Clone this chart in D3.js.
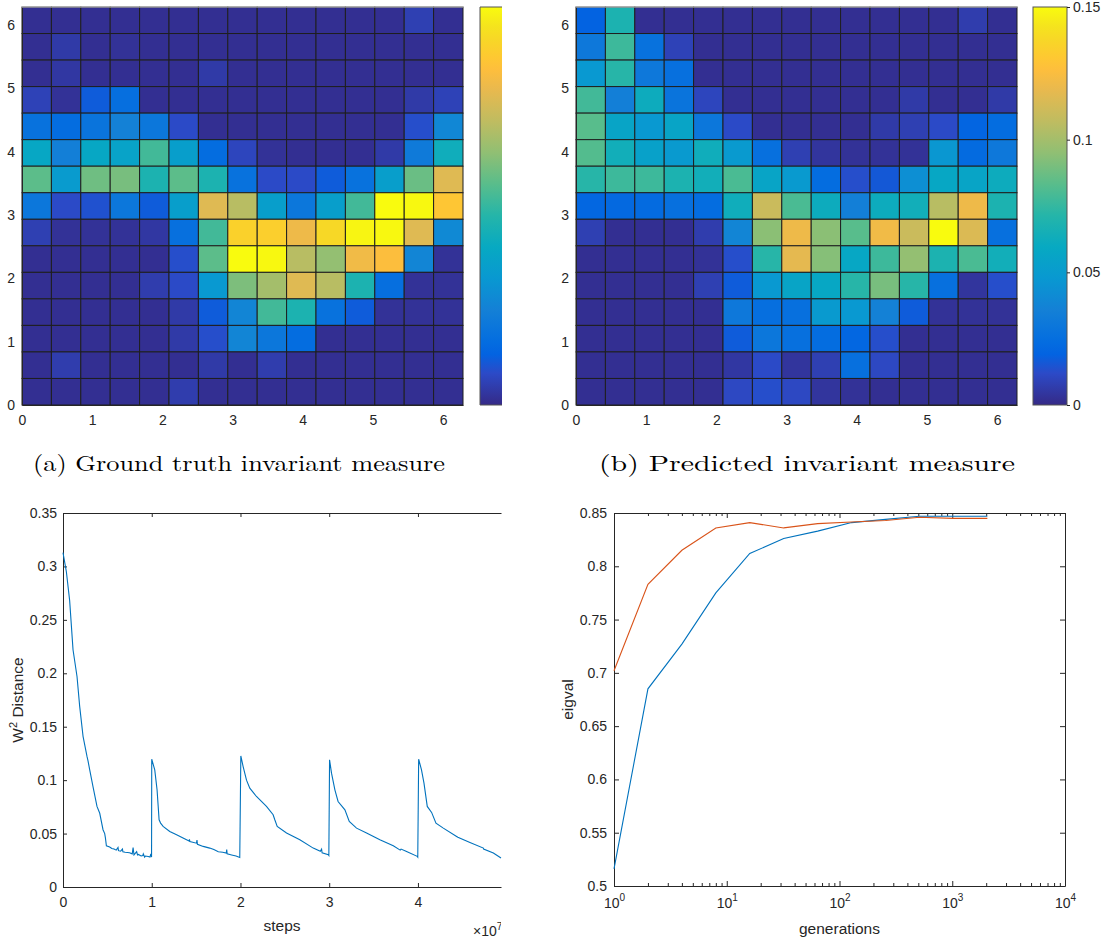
<!DOCTYPE html>
<html>
<head>
<meta charset="utf-8">
<script src="https://cdn.jsdelivr.net/npm/d3@7"></script>
<style>
  body { margin: 0; background: #fff; }
  svg text { font-family: "Liberation Sans", Arial, sans-serif; fill: #262626; }
  .axis path, .axis line { stroke: #262626; }
</style>
</head>
<body>
<script>
// ---- data ----
const gridTicks = [0, 1, 2, 3, 4, 5, 6];
const cbTicks = [0, 0.05, 0.1, 0.15];

// 15x15 invariant measures, top row first (y near 2*pi) -> bottom row (y near 0)
const truthMeasure = [
  [0.002,0.002,0.002,0.002,0.002,0.002,0.002,0.002,0.002,0.002,0.002,0.002,0.002,0.008,0.002],
  [0.002,0.006,0.002,0.003,0.002,0.002,0.002,0.002,0.002,0.002,0.002,0.002,0.002,0.002,0.002],
  [0.002,0.005,0.002,0.002,0.002,0.002,0.006,0.002,0.002,0.002,0.002,0.002,0.002,0.002,0.002],
  [0.009,0.003,0.017,0.025,0.002,0.002,0.002,0.002,0.002,0.002,0.002,0.002,0.002,0.006,0.009],
  [0.027,0.024,0.028,0.036,0.030,0.012,0.002,0.002,0.002,0.002,0.002,0.002,0.002,0.013,0.039],
  [0.058,0.035,0.058,0.055,0.078,0.052,0.024,0.010,0.003,0.002,0.002,0.002,0.006,0.032,0.063],
  [0.084,0.050,0.088,0.090,0.068,0.084,0.068,0.027,0.012,0.012,0.017,0.027,0.052,0.087,0.116],
  [0.030,0.012,0.014,0.030,0.017,0.052,0.116,0.105,0.052,0.030,0.052,0.078,0.150,0.149,0.130],
  [0.008,0.003,0.003,0.003,0.005,0.026,0.078,0.135,0.134,0.121,0.138,0.148,0.149,0.116,0.040],
  [0.002,0.002,0.002,0.002,0.002,0.013,0.084,0.150,0.149,0.105,0.096,0.122,0.126,0.038,0.003],
  [0.002,0.002,0.002,0.002,0.007,0.012,0.048,0.091,0.100,0.116,0.105,0.068,0.025,0.003,0.003],
  [0.002,0.002,0.002,0.002,0.002,0.006,0.017,0.038,0.078,0.068,0.027,0.017,0.003,0.003,0.003],
  [0.002,0.002,0.002,0.002,0.002,0.006,0.013,0.038,0.030,0.024,0.002,0.002,0.002,0.002,0.002],
  [0.002,0.007,0.002,0.002,0.002,0.002,0.006,0.002,0.007,0.002,0.002,0.002,0.002,0.002,0.002],
  [0.002,0.002,0.002,0.002,0.002,0.007,0.002,0.002,0.002,0.002,0.002,0.002,0.002,0.002,0.002]
];
const predictedMeasure = [
  [0.019,0.068,0.002,0.002,0.002,0.002,0.002,0.002,0.002,0.002,0.002,0.002,0.002,0.007,0.002],
  [0.031,0.077,0.027,0.009,0.002,0.002,0.002,0.002,0.002,0.002,0.002,0.002,0.002,0.002,0.002],
  [0.048,0.072,0.031,0.026,0.002,0.002,0.002,0.002,0.002,0.002,0.002,0.002,0.002,0.002,0.002],
  [0.078,0.035,0.062,0.028,0.010,0.002,0.002,0.002,0.002,0.002,0.002,0.006,0.002,0.002,0.006],
  [0.083,0.056,0.048,0.056,0.030,0.012,0.002,0.002,0.002,0.002,0.006,0.008,0.012,0.020,0.024],
  [0.082,0.064,0.054,0.049,0.063,0.049,0.026,0.008,0.004,0.003,0.003,0.003,0.047,0.023,0.031],
  [0.072,0.077,0.077,0.068,0.064,0.080,0.056,0.049,0.024,0.013,0.016,0.043,0.058,0.056,0.062],
  [0.021,0.022,0.023,0.026,0.024,0.063,0.110,0.080,0.062,0.035,0.062,0.064,0.105,0.121,0.068],
  [0.008,0.002,0.002,0.002,0.007,0.038,0.094,0.121,0.094,0.083,0.122,0.110,0.150,0.115,0.026],
  [0.002,0.002,0.002,0.002,0.003,0.013,0.072,0.118,0.093,0.058,0.077,0.096,0.068,0.080,0.064],
  [0.002,0.002,0.002,0.002,0.008,0.017,0.048,0.056,0.058,0.072,0.090,0.072,0.026,0.004,0.013],
  [0.002,0.002,0.002,0.002,0.002,0.031,0.025,0.026,0.049,0.048,0.036,0.017,0.003,0.003,0.003],
  [0.002,0.002,0.002,0.002,0.002,0.017,0.030,0.026,0.024,0.021,0.013,0.002,0.002,0.002,0.002],
  [0.002,0.002,0.002,0.002,0.002,0.005,0.012,0.004,0.008,0.026,0.011,0.002,0.002,0.002,0.002],
  [0.002,0.002,0.002,0.002,0.002,0.011,0.013,0.011,0.004,0.003,0.002,0.002,0.002,0.002,0.002]
];

// W^2 distance vs training steps (x in units of 1e7)
const stepsX = [
  0, 0.038, 0.075, 0.113, 0.158, 0.188, 0.226, 0.271, 0.282, 0.30, 0.338, 0.383, 0.414, 0.451, 0.470, 0.478, 0.489,
  0.526, 0.55, 0.575, 0.6, 0.62, 0.625, 0.65, 0.67, 0.675, 0.7, 0.75, 0.78, 0.79, 0.80, 0.83, 0.84, 0.85, 0.88,
  0.9, 0.905, 0.92, 0.93, 0.96, 0.98, 0.99, 0.995, 0.998,
  1.0, 1.034, 1.06, 1.083, 1.10, 1.128, 1.203, 1.28, 1.353, 1.42, 1.425, 1.43, 1.504, 1.51, 1.515, 1.58, 1.654,
  1.70, 1.75, 1.80, 1.84, 1.845, 1.85, 1.90, 1.95, 1.992,
  2.004, 2.03, 2.068, 2.105, 2.18, 2.293, 2.368, 2.387, 2.414, 2.519, 2.669, 2.82, 2.90, 2.914, 2.92, 2.99, 2.996,
  3.004, 3.026, 3.064, 3.10, 3.177, 3.226, 3.308, 3.421, 3.571, 3.722, 3.80, 3.81, 3.872, 3.992, 3.998,
  4.008, 4.04, 4.068, 4.105, 4.154, 4.203, 4.286, 4.436, 4.45, 4.586, 4.737, 4.74, 4.85, 4.936
];
const w2Dist = [
  0.313, 0.295, 0.268, 0.222, 0.197, 0.169, 0.141, 0.122, 0.118, 0.110, 0.094, 0.0754, 0.069, 0.0536, 0.050, 0.046, 0.0386,
  0.0374, 0.036, 0.0355, 0.0345, 0.037, 0.034, 0.0335, 0.0355, 0.033, 0.0325, 0.032, 0.031, 0.037, 0.030, 0.033, 0.030, 0.0305, 0.029,
  0.0295, 0.031, 0.028, 0.029, 0.0285, 0.028, 0.031, 0.029, 0.028,
  0.1196, 0.1096, 0.091, 0.0629, 0.0598, 0.0567, 0.052, 0.049, 0.0458, 0.043, 0.0445, 0.0425, 0.041, 0.044, 0.040, 0.038, 0.0364,
  0.035, 0.033, 0.0325, 0.0318, 0.035, 0.031, 0.030, 0.029, 0.0277,
  0.1227, 0.1127, 0.100, 0.0925, 0.0847, 0.0754, 0.0676, 0.0629, 0.0567, 0.0505, 0.0442, 0.0364, 0.0335, 0.0355, 0.032, 0.0302, 0.0295,
  0.119, 0.1065, 0.0909, 0.080, 0.0722, 0.0613, 0.0551, 0.0505, 0.0442, 0.0386, 0.0345, 0.0355, 0.0333, 0.0287, 0.028,
  0.1196, 0.1096, 0.0972, 0.0754, 0.0698, 0.0598, 0.0551, 0.0473, 0.0465, 0.0417, 0.0364, 0.0355, 0.0318, 0.0271
];
const w2Ticks = [0, 0.05, 0.1, 0.15, 0.2, 0.25, 0.3, 0.35];
const stepTicks = [0, 1, 2, 3, 4];

// eigenvalue vs generations
const generations = [1, 2, 4, 8, 16, 32, 64, 128, 256, 512, 1024, 2048];
const eigBlue   = [0.516, 0.685, 0.727, 0.775, 0.812, 0.826, 0.833, 0.841, 0.844, 0.847, 0.847, 0.847];
const eigOrange = [0.702, 0.783, 0.815, 0.836, 0.841, 0.836, 0.840, 0.8415, 0.843, 0.846, 0.845, 0.845];
const eigTicks = [0.5, 0.55, 0.6, 0.65, 0.7, 0.75, 0.8, 0.85];
const genTicks = [1, 10, 100, 1000, 10000];

// parula colormap anchors
const parula = ["#352a87","#2c4ac7","#0363e1","#046de0","#1480d6","#0998d1","#07a9c2","#25b5a9",
                "#59bd8b","#91bf73","#c0bc60","#e9b94e","#fdbe3d","#fec832","#f7d826","#f5e41d","#f9fb0e"];
const parulaIdx = [0, 5, 8, 10, 15, 20, 25, 30, 35, 40, 45, 50, 53, 55, 58, 60, 63];

const fmt = d => d === 0 ? "0" : String(+d.toFixed(2));
const intFmt = d3.format("d");
const labelSize = 15.5;

const svg = d3.select("body").append("svg")
  .attr("width", 1109)
  .attr("height", 940);

const color = d3.scaleLinear()
  .domain(parulaIdx.map(i => i / 63 * 0.15))
  .range(parula)
  .clamp(true);

const grad = svg.append("defs").append("linearGradient")
  .attr("id", "parulaGrad")
  .attr("x1", 0).attr("y1", 1).attr("x2", 0).attr("y2", 0);
grad.selectAll("stop")
  .data(parulaIdx)
  .join("stop")
  .attr("offset", d => d / 63)
  .attr("stop-color", (d, i) => parula[i]);

function drawHeatmap(values, box, cb) {
  const g = svg.append("g");
  const x = d3.scaleLinear().domain([0, 2 * Math.PI]).range([box.x0, box.x1]);
  const y = d3.scaleLinear().domain([0, 2 * Math.PI]).range([box.y1, box.y0]);
  const n = values.length, step = 2 * Math.PI / n;
  const cells = values.flatMap((row, r) => row.map((v, c) => ({ r, c, v })));

  g.selectAll("rect.cell")
    .data(cells)
    .join("rect")
    .attr("class", "cell")
    .attr("x", d => x(d.c * step))
    .attr("width", d => x((d.c + 1) * step) - x(d.c * step))
    .attr("y", d => y((n - d.r) * step))
    .attr("height", d => y((n - d.r - 1) * step) - y((n - d.r) * step))
    .attr("fill", d => color(d.v))
    .attr("stroke", "#1e1e1e")
    .attr("stroke-width", 1);

  g.append("g").attr("class", "axis")
    .attr("transform", `translate(0,${box.y1})`)
    .call(d3.axisBottom(x).tickValues(gridTicks).tickFormat(intFmt).tickSizeInner(0).tickSizeOuter(0).tickPadding(10))
    .call(s => s.select(".domain").attr("stroke", "#7a7a7a"))
    .selectAll("text").attr("font-size", 14);
  g.append("g").attr("class", "axis")
    .attr("transform", `translate(${box.x0},0)`)
    .call(d3.axisLeft(y).tickValues(gridTicks).tickFormat(intFmt).tickSizeInner(0).tickSizeOuter(0).tickPadding(7))
    .call(s => s.select(".domain").attr("stroke", "#7a7a7a"))
    .selectAll("text").attr("font-size", 14);
  g.append("line")
    .attr("x1", box.x0).attr("x2", box.x1).attr("y1", box.y0).attr("y2", box.y0)
    .attr("stroke", "#cfcfcf");

  // colorbar
  g.append("rect")
    .attr("x", cb.x).attr("y", box.y0)
    .attr("width", cb.w).attr("height", box.y1 - box.y0)
    .attr("fill", "url(#parulaGrad)");
  if (cb.labels) {
    g.append("rect")
      .attr("x", cb.x).attr("y", box.y0)
      .attr("width", cb.w).attr("height", box.y1 - box.y0)
      .attr("fill", "none").attr("stroke", "#555");
    const cy = d3.scaleLinear().domain([0, 0.15]).range([box.y1, box.y0]);
    g.append("g").attr("class", "axis")
      .attr("transform", `translate(${cb.x + cb.w},0)`)
      .call(d3.axisRight(cy).tickValues(cbTicks).tickFormat(fmt).tickSizeInner(3).tickSizeOuter(0).tickPadding(3))
      .call(s => s.select(".domain").remove())
      .selectAll("text").attr("font-size", 14);
  } else {
    g.append("path")
      .attr("d", `M${cb.x + cb.w},${box.y0}H${cb.x}V${box.y1}H${cb.x + cb.w}`)
      .attr("fill", "none").attr("stroke", "#555");
  }
}

drawHeatmap(truthMeasure, { x0: 22, x1: 463, y0: 7, y1: 405 }, { x: 480, w: 22, labels: false });
drawHeatmap(predictedMeasure, { x0: 576, x1: 1017, y0: 7, y1: 405 }, { x: 1033, w: 34, labels: true });

// captions
const serif = '"Latin Modern Roman", "CMU Serif", "Liberation Serif", "DejaVu Serif", serif';
svg.append("text").attr("x", 239).attr("y", 471).attr("text-anchor", "middle")
  .style("font-family", serif).attr("font-size", 22).style("fill", "#000")
  .attr("textLength", 412).attr("lengthAdjust", "spacingAndGlyphs")
  .text("(a)  Ground truth invariant measure");
svg.append("text").attr("x", 807).attr("y", 471).attr("text-anchor", "middle")
  .style("font-family", serif).attr("font-size", 22).style("fill", "#000")
  .attr("textLength", 416).attr("lengthAdjust", "spacingAndGlyphs")
  .text("(b)  Predicted invariant measure");

// ---- W^2 distance plot ----
{
  const box = { x0: 63, x1: 501, y0: 513, y1: 887 };
  const x = d3.scaleLinear().domain([0, 4.936]).range([box.x0, box.x1]);
  const y = d3.scaleLinear().domain([0, 0.35]).range([box.y1, box.y0]);
  const g = svg.append("g");

  g.append("g").attr("class", "axis")
    .attr("transform", `translate(0,${box.y1})`)
    .call(d3.axisBottom(x).tickValues(stepTicks).tickFormat(intFmt).tickSizeInner(-4).tickSizeOuter(0).tickPadding(10))
    .selectAll("text").attr("font-size", 14);
  g.append("g").attr("class", "axis")
    .attr("transform", `translate(0,${box.y0})`)
    .call(d3.axisTop(x).tickValues(stepTicks).tickFormat("").tickSizeInner(-4).tickSizeOuter(0));
  g.append("g").attr("class", "axis")
    .attr("transform", `translate(${box.x0},0)`)
    .call(d3.axisLeft(y).tickValues(w2Ticks).tickFormat(fmt).tickSizeInner(-4).tickSizeOuter(0).tickPadding(6))
    .selectAll("text").attr("font-size", 14);

  const line = d3.line().x(d => x(d[0])).y(d => y(d[1]));
  g.append("path")
    .datum(stepsX.map((s, i) => [s, w2Dist[i]]))
    .attr("d", line)
    .attr("fill", "none")
    .attr("stroke", "#0072BD")
    .attr("stroke-width", 1.1);

  g.append("text").attr("x", (box.x0 + box.x1) / 2).attr("y", 931)
    .attr("text-anchor", "middle").attr("font-size", labelSize).text("steps");
  const yl = g.append("text")
    .attr("transform", `translate(23,${(box.y0 + box.y1) / 2}) rotate(-90)`)
    .attr("text-anchor", "middle").attr("font-size", labelSize);
  yl.append("tspan").text("W");
  yl.append("tspan").attr("dy", -6).attr("font-size", 11).text("2");
  yl.append("tspan").attr("dy", 6).text(" Distance");

  svg.append("clipPath").attr("id", "expClip")
    .append("rect").attr("x", 460).attr("y", 915).attr("width", 41).attr("height", 25);
  const ex = g.append("text").attr("x", 473).attr("y", 936)
    .attr("font-size", 14).attr("clip-path", "url(#expClip)");
  ex.append("tspan").text("\u00d710");
  ex.append("tspan").attr("dy", -6).attr("font-size", 10).text("7");
}

// ---- eigval plot ----
{
  const box = { x0: 614, x1: 1065, y0: 513, y1: 886 };
  const x = d3.scaleLog().domain([1, 10000]).range([box.x0, box.x1]);
  const y = d3.scaleLinear().domain([0.5, 0.85]).range([box.y1, box.y0]);
  const g = svg.append("g");
  const minor = [];
  for (let k = 0; k < 4; k++) for (let m = 2; m < 10; m++) minor.push(m * Math.pow(10, k));

  g.append("g").attr("class", "axis")
    .attr("transform", `translate(0,${box.y1})`)
    .call(d3.axisBottom(x).tickValues(genTicks).tickSizeInner(-5).tickSizeOuter(0).tickPadding(12)
      .tickFormat(""))
    .selectAll(".tick text")
    .attr("font-size", 14)
    .each(function (d) {
      const t = d3.select(this);
      t.append("tspan").text("10");
      t.append("tspan").attr("dy", -7).attr("font-size", 10).text(Math.round(Math.log10(d)));
    });
  g.append("g").attr("class", "axis")
    .attr("transform", `translate(0,${box.y1})`)
    .call(d3.axisBottom(x).tickValues(minor).tickFormat("").tickSizeInner(-3).tickSizeOuter(0))
    .call(s => s.select(".domain").remove());
  g.append("g").attr("class", "axis")
    .attr("transform", `translate(0,${box.y0})`)
    .call(d3.axisTop(x).tickValues(genTicks).tickFormat("").tickSizeInner(-5).tickSizeOuter(0));
  g.append("g").attr("class", "axis")
    .attr("transform", `translate(0,${box.y0})`)
    .call(d3.axisTop(x).tickValues(minor).tickFormat("").tickSizeInner(-3).tickSizeOuter(0))
    .call(s => s.select(".domain").remove());
  g.append("g").attr("class", "axis")
    .attr("transform", `translate(${box.x0},0)`)
    .call(d3.axisLeft(y).tickValues(eigTicks).tickFormat(fmt).tickSizeInner(-5).tickSizeOuter(0).tickPadding(7))
    .selectAll("text").attr("font-size", 14);
  g.append("g").attr("class", "axis")
    .attr("transform", `translate(${box.x1},0)`)
    .call(d3.axisRight(y).tickValues(eigTicks).tickFormat("").tickSizeInner(-5).tickSizeOuter(0));

  const line = d3.line().x(d => x(d[0])).y(d => y(d[1]));
  g.append("path")
    .datum(generations.map((n, i) => [n, eigBlue[i]]))
    .attr("d", line).attr("fill", "none").attr("stroke", "#0072BD").attr("stroke-width", 1.1);
  g.append("path")
    .datum(generations.map((n, i) => [n, eigOrange[i]]))
    .attr("d", line).attr("fill", "none").attr("stroke", "#D95319").attr("stroke-width", 1.1);

  g.append("text").attr("x", (box.x0 + box.x1) / 2).attr("y", 934)
    .attr("text-anchor", "middle").attr("font-size", labelSize).text("generations");
  g.append("text")
    .attr("transform", `translate(573,${(box.y0 + box.y1) / 2}) rotate(-90)`)
    .attr("text-anchor", "middle").attr("font-size", labelSize).text("eigval");
}
</script>
</body>
</html>
